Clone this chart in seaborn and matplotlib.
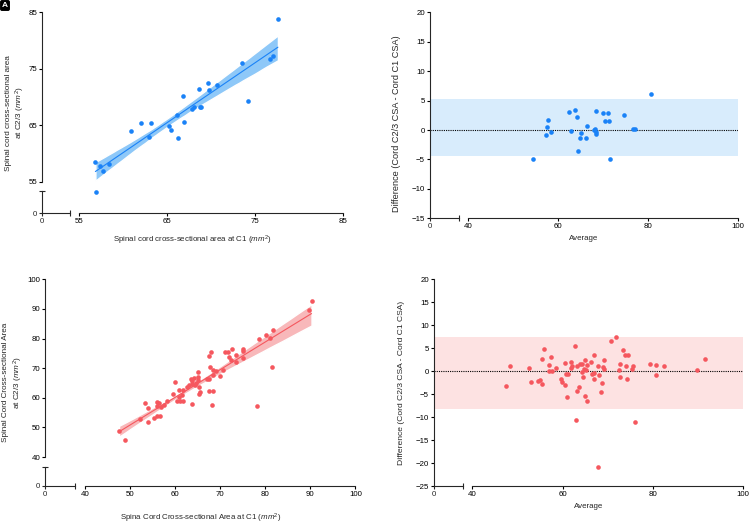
import matplotlib
matplotlib.use("Agg")
import numpy as np
import pandas as pd
import seaborn as sns
import matplotlib.pyplot as plt

# ---- data ----
# Panel A: C1 CSA vs C2/3 CSA (first cohort)
a_c1 = [77.58, 73.52, 76.67, 77.0, 74.17, 70.64, 69.62, 68.6, 69.7, 66.82,
        68.75, 68.9, 67.88, 68.03, 66.1, 66.9, 65.27, 65.45, 66.21, 63.14,
        62.08, 62.92, 60.91, 58.45, 57.35, 57.69, 56.86, 56.93]
a_c23 = [83.76, 76.03, 76.8, 77.21, 69.25, 72.2, 72.55, 71.49, 71.25, 70.13,
         68.3, 68.19, 67.89, 68.19, 66.77, 65.53, 64.82, 64.12, 62.7, 65.41,
         65.41, 62.88, 63.94, 58.16, 57.86, 56.92, 58.57, 53.26]

# Panel B: Bland-Altman (first cohort)
b_avg = [80.67, 74.81, 62.52, 63.85, 64.3, 68.59, 70.07, 71.19, 70.52, 71.48,
         57.78, 57.7, 57.33, 58.44, 62.96, 65.11, 64.89, 66.3, 66.52, 68.0,
         68.22, 68.52, 68.59, 76.67, 77.19, 64.44, 71.7, 54.52]
b_diff = [6.12, 2.55, 3.0, 3.34, 2.27, 3.29, 2.89, 2.89, 1.59, 1.59,
          1.76, 0.45, -0.79, -0.34, -0.11, -0.45, -1.3, -1.42, 0.68, 0.0,
          0.11, -0.34, -0.74, 0.11, 0.17, -3.51, -4.93, -4.99]
b_loa = [-4.37, 5.27]

# Panel C: C1 CSA vs C2/3 CSA (second cohort)
c_c1 = [90.26, 89.59, 81.83, 81.1, 80.13, 78.58, 81.61, 78.14, 75.11, 75.18,
        75.03, 73.56, 73.48, 72.74, 71.86, 71.12, 72.0, 72.37, 70.6, 70.0,
        68.01, 67.49, 67.86, 68.53, 69.05, 68.38, 67.64, 67.05, 67.57, 68.53,
        68.23, 65.05, 65.13, 65.13, 65.28, 65.57, 65.43, 64.69, 64.24, 63.58,
        63.73, 63.87, 63.06, 62.62, 64.54, 63.8, 61.73, 61.51, 60.84, 60.84,
        60.4, 61.14, 61.8, 59.96, 59.51, 58.33, 57.52, 56.93, 56.41, 55.96,
        56.11, 56.78, 55.96, 55.3, 53.97, 54.05, 53.38, 52.27, 47.61, 49.02]
c_c23 = [92.79, 89.75, 82.88, 80.29, 81.31, 79.95, 70.5, 57.32, 76.35, 75.68,
         73.42, 74.55, 72.18, 76.35, 75.45, 75.45, 73.65, 72.75, 69.37, 67.46,
         75.34, 73.99, 70.27, 69.37, 69.14, 67.68, 66.33, 66.44, 62.27, 62.16,
         57.66, 68.58, 67.12, 65.99, 63.74, 61.94, 61.15, 65.09, 66.55, 66.33,
         65.54, 64.53, 64.41, 63.51, 64.19, 57.99, 62.5, 60.92, 62.5, 60.36,
         58.78, 58.78, 58.9, 65.32, 61.26, 58.9, 57.66, 56.98, 58.11, 58.67,
         57.32, 53.94, 53.94, 53.27, 51.8, 56.64, 58.11, 52.82, 48.87, 45.72]

# Panel D: Bland-Altman (second cohort)
d_avg = [91.51, 89.67, 82.36, 80.66, 80.66, 79.34, 76.09, 75.65, 75.28, 74.47,
         73.73, 73.36, 74.17, 74.02, 72.77, 72.47, 72.77, 71.81, 70.77, 69.15,
         69.0, 69.15, 68.71, 68.41, 68.12, 67.82, 66.94, 66.94, 66.94, 66.49,
         66.2, 67.75, 65.46, 65.31, 65.09, 64.94, 64.94, 64.72, 64.43, 64.28,
         64.35, 63.84, 63.69, 63.25, 63.03, 62.73, 63.1, 62.14, 61.85, 61.85,
         61.25, 60.96, 60.66, 60.44, 60.44, 59.85, 59.56, 58.52, 57.64, 56.97,
         57.34, 56.97, 55.79, 55.35, 55.42, 54.98, 54.47, 52.99, 52.62, 48.34,
         47.38]
d_diff = [2.68, 0.29, 1.09, 1.23, -0.8, 1.45, -10.94, 1.01, 0.51, 3.55,
          3.55, 4.49, -1.67, 1.09, 1.59, 0.29, -1.23, 7.46, 6.59, 2.46,
          0.87, 0.51, -2.61, -4.49, -0.87, 1.16, 3.55, -0.51, -1.67, -0.58,
          1.96, -20.72, 1.38, -6.52, 0.22, 2.46, -5.36, 0.51, -1.38, 1.59,
          -0.14, 1.45, -3.55, -4.35, -10.58, 5.36, 1.01, 1.16, 1.88, 0.65,
          -0.72, -5.72, -0.72, 1.67, -2.97, -2.46, -1.74, 0.65, 0.07, -0.07,
          2.97, 1.3, 4.71, 2.54, -2.75, -1.88, -2.1, -2.32, 0.58, 1.16,
          -3.33]
d_loa = [-8.2, 7.46]

BLUE, BLUE_CI, BLUE_LOA = "#1a82f7", "#8ec8f8", "#d8ecfc"
RED, RED_CI, RED_LOA = "#f5575e", "#f8b8ba", "#fde2e2"

sns.set_style("ticks")
plt.rcParams['font.family'] = ['Liberation Sans', 'DejaVu Sans']
plt.rcParams['mathtext.fontset'] = 'custom'
plt.rcParams['mathtext.rm'] = 'Liberation Sans'
plt.rcParams['mathtext.it'] = 'Liberation Sans:italic'
plt.rcParams['font.size'] = 5.7
plt.rcParams['axes.linewidth'] = 0.8
plt.rcParams['xtick.major.width'] = 0.8
plt.rcParams['ytick.major.width'] = 0.8
plt.rcParams['xtick.major.size'] = 2.2
plt.rcParams['ytick.major.size'] = 2.2
plt.rcParams['xtick.major.pad'] = 1.5
plt.rcParams['ytick.major.pad'] = 1.5

FS = 5.7
W, H = 752, 526
fig = plt.figure(figsize=(W / 100, H / 100), dpi=100)


def px_axes(x0, y0, x1, y1):
    # box in pixels, origin top-left
    return fig.add_axes([x0 / W, 1 - y1 / H, (x1 - x0) / W, (y1 - y0) / H])


def lims(p1, v1, p2, v2, e1, e2):
    k = (v2 - v1) / (p2 - p1)
    return v1 + (e1 - p1) * k, v1 + (e2 - p1) * k


def style_main(ax, xt, yt, ybreak=False):
    sns.despine(ax=ax)
    ax.set_xticks(xt)
    ax.set_yticks(yt)
    ax.spines['bottom'].set_bounds(xt[0], xt[-1])
    ax.spines['left'].set_bounds(yt[0], yt[-1])
    ax.set_xticks([xt[0]], minor=True)
    ax.tick_params(axis='x', which='minor', direction='inout', length=5, width=0.8)
    if ybreak:
        ax.set_yticks([yt[0]], minor=True)
        ax.tick_params(axis='y', which='minor', direction='inout', length=5, width=0.8)
    ax.tick_params(colors='black', labelsize=FS)
    ax.patch.set_alpha(0)


def corner(box, with_y):
    cx = px_axes(*box)
    cx.patch.set_alpha(0)
    cx.set_xlim(0, 1)
    cx.set_ylim(0, 1)
    sns.despine(ax=cx)
    cx.set_xticks([0])
    cx.set_xticks([1], minor=True)
    cx.tick_params(axis='x', which='minor', direction='inout', length=5, width=0.8)
    if with_y:
        cx.set_yticks([0])
        cx.set_yticks([1], minor=True)
        cx.tick_params(axis='y', which='minor', direction='inout', length=5, width=0.8)
    else:
        cx.spines['left'].set_visible(False)
        cx.set_yticks([])
    cx.tick_params(labelsize=FS)
    return cx


def corr_panel(box, xmap, ymap, cbox, x, y, col, ci_col, xt, yt, xlabel, ylabel, xlpad, ylpad):
    ax = px_axes(*box)
    df = pd.DataFrame({'x': x, 'y': y})
    sns.regplot(data=df, x='x', y='y', ax=ax, color=col, ci=95, seed=3,
                scatter_kws={'s': 11, 'linewidths': 0, 'alpha': 1, 'zorder': 4},
                line_kws={'lw': 0.8, 'zorder': 3})
    for coll in ax.collections:
        if isinstance(coll, matplotlib.collections.PolyCollection):
            coll.set_facecolor(ci_col)
            coll.set_alpha(1)
            coll.set_zorder(2)
    ax.set_xlim(*lims(*xmap, box[0], box[2]))
    ax.set_ylim(*lims(*ymap, box[3], box[1]))
    style_main(ax, xt, yt, ybreak=True)
    ax.set_xlabel(xlabel, fontsize=FS, labelpad=xlpad)
    ax.set_ylabel(ylabel, fontsize=5.9, labelpad=ylpad)
    corner(cbox, True)
    return ax


def ba_panel(box, xmap, ymap, cbox, avg, diff, loa, col, loa_col, xt, yt, ylfs, ylpos):
    ax = px_axes(*box)
    ax.axhspan(loa[0], loa[1], color=loa_col, lw=0, zorder=0)
    ax.axhline(0, color='black', ls=(0, (1, 1)), lw=0.8, zorder=1)
    sns.scatterplot(x=avg, y=diff, ax=ax, color=col, s=11, linewidth=0, zorder=3)
    ax.set_xlim(*lims(*xmap, box[0], box[2]))
    ax.set_ylim(*lims(*ymap, box[3], box[1]))
    style_main(ax, xt, yt)
    ax.set_xlabel("Average", fontsize=FS, labelpad=3)
    ax.set_ylabel("Difference (Cord C2/3 CSA - Cord C1 CSA)", fontsize=ylfs)
    ax.yaxis.set_label_coords(-0.095, ylpos)
    corner(cbox, False)
    return ax


# Panel A
corr_panel((42.3, 12.3, 343.3, 213.3), (79, 55, 343.3, 85), (181.7, 55, 12.3, 85),
           (42.3, 190.7, 70.3, 213.3), a_c1, a_c23, BLUE, BLUE_CI,
           [55, 65, 75, 85], [55, 65, 75, 85],
           r"Spinal cord cross-sectional area at C1 ($\mathit{mm}^2$)",
           "Spinal cord cross-sectional area\n" + r"at C2/3 ($\mathit{mm}^2$)", 6, 1)

# Panel B
ba_panel((430, 12.3, 737.7, 218.3), (467.7, 40, 737.7, 100), (218.3, -15, 12.3, 20),
         (430, 217.3, 459.3, 218.3), b_avg, b_diff, b_loa, BLUE, BLUE_LOA,
         [40, 60, 80, 100], [-15, -10, -5, 0, 5, 10, 15, 20], 6.6, 0.46)

# Panel C
corr_panel((45.3, 279.3, 355.5, 486), (84.7, 40, 355.5, 100), (457, 40, 279.3, 100),
           (45.3, 466.7, 75.3, 486), c_c1, c_c23, RED, RED_CI,
           [40, 50, 60, 70, 80, 90, 100], [40, 50, 60, 70, 80, 90, 100],
           r"Spina Cord Cross-sectional Area at C1 ($\mathit{mm}^2$)",
           "Spinal Cord Cross-sectional Area\n" + r"at C2/3 ($\mathit{mm}^2$)", 10, 2)

# Panel D
ba_panel((434, 279, 743.3, 486.3), (472.3, 40, 743.3, 100), (486.3, -25, 279, 20),
         (434, 485.3, 463, 486.3), d_avg, d_diff, d_loa, RED, RED_LOA,
         [40, 60, 80, 100], [-25, -20, -15, -10, -5, 0, 5, 10, 15, 20], 6.1, 0.5)

fig.text(2 / W, 1 - 2 / H, "A", fontsize=6, fontweight='bold', color='white', va='top', ha='left',
         bbox=dict(boxstyle='round,pad=0.15', fc='black', ec='black'))

fig.savefig("out.png", dpi=100)
